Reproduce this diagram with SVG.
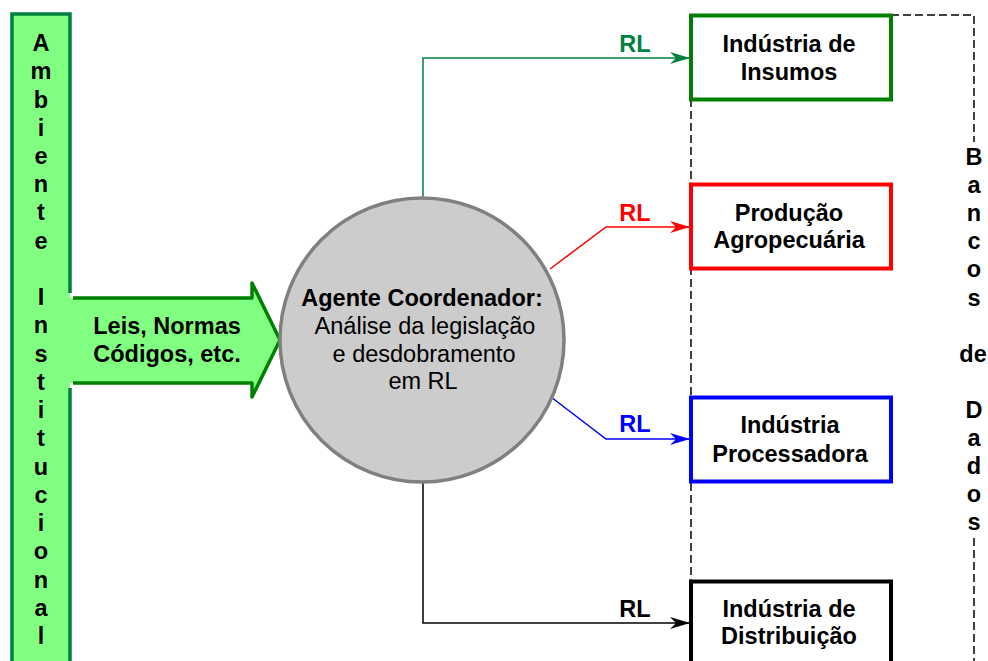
<svg xmlns="http://www.w3.org/2000/svg" width="988" height="661" viewBox="0 0 988 661">
<defs>
<style>
text{font-family:"Liberation Sans",Arial,sans-serif;font-size:23.5px;text-anchor:middle;fill:#000}
.b{font-weight:bold}
.v{font-weight:bold}
.box{fill:#fff;stroke-width:4}
.con{fill:none;stroke-width:1.5}
.dash{fill:none;stroke:#000;stroke-width:1.5;stroke-dasharray:8 4}
</style>
<marker id="mg" viewBox="0 0 20 12" refX="20" refY="6" markerWidth="20" markerHeight="12" markerUnits="userSpaceOnUse" orient="auto"><path d="M0,0 L20,6 L0,12 L6,6 Z" fill="#008040"/></marker>
<marker id="mr" viewBox="0 0 20 12" refX="20" refY="6" markerWidth="20" markerHeight="12" markerUnits="userSpaceOnUse" orient="auto"><path d="M0,0 L20,6 L0,12 L6,6 Z" fill="#f00"/></marker>
<marker id="mb" viewBox="0 0 20 12" refX="20" refY="6" markerWidth="20" markerHeight="12" markerUnits="userSpaceOnUse" orient="auto"><path d="M0,0 L20,6 L0,12 L6,6 Z" fill="#00f"/></marker>
<marker id="mk" viewBox="0 0 20 12" refX="20" refY="6" markerWidth="20" markerHeight="12" markerUnits="userSpaceOnUse" orient="auto"><path d="M0,0 L20,6 L0,12 L6,6 Z" fill="#000"/></marker>
</defs>
<rect width="988" height="661" fill="#fff"/>

<g id="dashes">
<path class="dash" d="M691,15 V661"/>
<path class="dash" d="M891,15 H974 V142"/>
<path class="dash" d="M974,538 V661"/>
</g>

<g id="ambiente">
<rect x="12" y="14" width="58" height="660" fill="#80ff80"/>
<polygon points="60,298 252,298 252,283 280,340 252,397 252,383 60,383" fill="#80ff80"/>
<path d="M70,293 V14 H12 V670 M70,670 V388" fill="none" stroke="#008040" stroke-width="3.5"/>
<polyline points="73,298 252,298 252,283 280,340 252,397 252,383 73,383" fill="none" stroke="#008000" stroke-width="3.5" stroke-linejoin="round"/>
<text class="v" x="41">
<tspan x="41" y="51">A</tspan><tspan x="41" y="79.2">m</tspan><tspan x="41" y="107.5">b</tspan><tspan x="41" y="135.7">i</tspan><tspan x="41" y="164">e</tspan><tspan x="41" y="192.2">n</tspan><tspan x="41" y="220.4">t</tspan><tspan x="41" y="248.7">e</tspan><tspan x="41" y="305.2">I</tspan><tspan x="41" y="333.4">n</tspan><tspan x="41" y="361.6">s</tspan><tspan x="41" y="389.9">t</tspan><tspan x="41" y="418.1">i</tspan><tspan x="41" y="446.4">t</tspan><tspan x="41" y="474.6">u</tspan><tspan x="41" y="502.8">c</tspan><tspan x="41" y="531.1">i</tspan><tspan x="41" y="559.3">o</tspan><tspan x="41" y="587.6">n</tspan><tspan x="41" y="615.8">a</tspan><tspan x="41" y="644">l</tspan>
</text>
<text class="b" x="167" y="334">Leis, Normas</text>
<text class="b" x="167" y="362">Códigos, etc.</text>
</g>

<g id="connectors">
<polyline class="con" stroke="#008040" points="423,199 423,58 690,58" marker-end="url(#mg)"/>
<polyline class="con" stroke="#f00" points="550,269 606,227 690,227" marker-end="url(#mr)"/>
<polyline class="con" stroke="#00f" points="551,397 606,439 690,439" marker-end="url(#mb)"/>
<polyline class="con" stroke="#000" points="423,482 423,623 690,623" marker-end="url(#mk)"/>
<text class="b" x="635" y="52" style="fill:#008040">RL</text>
<text class="b" x="635" y="221" style="fill:#f00">RL</text>
<text class="b" x="635" y="432" style="fill:#00f">RL</text>
<text class="b" x="635" y="617">RL</text>
</g>

<g id="agente">
<circle cx="422" cy="340" r="142" fill="#ccc" stroke="#808080" stroke-width="3.5"/>
<text class="b" x="422" y="306">Agente Coordenador:</text>
<text x="425" y="334">Análise da legislação</text>
<text x="424" y="362">e desdobramento</text>
<text x="423" y="389">em RL</text>
</g>

<g id="insumos">
<rect class="box" x="691" y="15.5" width="200" height="84" stroke="#008000"/>
<text class="b" x="789" y="52">Indústria de</text>
<text class="b" x="789" y="80">Insumos</text>
</g>

<g id="producao">
<rect class="box" x="691" y="184.5" width="200" height="84" stroke="#f00"/>
<text class="b" x="789" y="221">Produção</text>
<text class="b" x="789" y="248">Agropecuária</text>
</g>

<g id="processadora">
<rect class="box" x="691" y="397.5" width="200" height="84" stroke="#00f"/>
<text class="b" x="790" y="433">Indústria</text>
<text class="b" x="790" y="462">Processadora</text>
</g>

<g id="distribuicao">
<rect class="box" x="691" y="581.5" width="200" height="90" stroke="#000"/>
<text class="b" x="789" y="617">Indústria de</text>
<text class="b" x="789" y="644">Distribuição</text>
</g>

<g id="bancos">
<text class="v">
<tspan x="974" y="165">B</tspan><tspan x="974" y="193.1">a</tspan><tspan x="974" y="221.2">n</tspan><tspan x="974" y="249.3">c</tspan><tspan x="974" y="277.4">o</tspan><tspan x="974" y="305.5">s</tspan><tspan x="973" y="361.7">de</tspan><tspan x="974" y="417.9">D</tspan><tspan x="974" y="446">a</tspan><tspan x="974" y="474.1">d</tspan><tspan x="974" y="502.2">o</tspan><tspan x="974" y="530.3">s</tspan>
</text>
</g>
</svg>
